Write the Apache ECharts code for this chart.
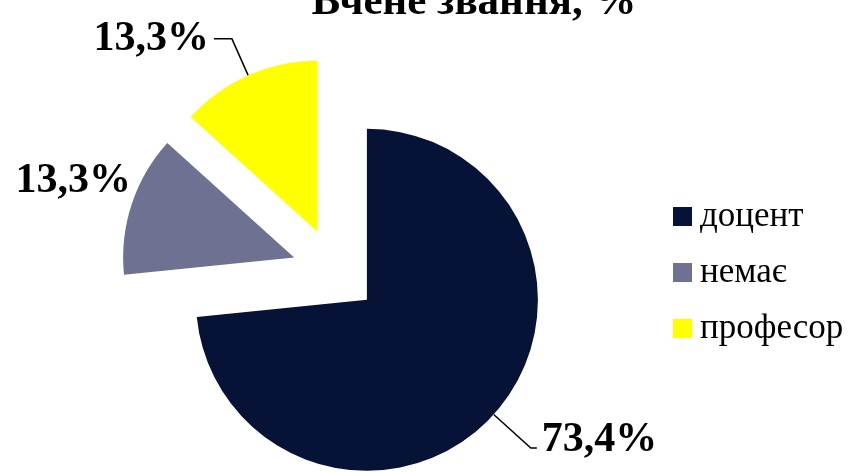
<!DOCTYPE html>
<html>
<head>
<meta charset="utf-8">
<script src="https://cdn.jsdelivr.net/npm/echarts@6/dist/echarts.min.js"></script>
<style>
  html, body { margin: 0; padding: 0; background: #fff; }
  #chart { width: 859px; height: 473px; }
</style>
</head>
<body>
<div id="chart"></div>
<script>
// values from the picture
const categories = ['доцент', 'немає', 'професор'];
const shares = [73.4, 13.3, 13.3];
const colors = ['#061236', '#6e7191', '#ffff00'];
// leader lines: [length, length2, show]
const leaders = [[50, 6, true], [4, 0, false], [40, 18, true]];

const serif = '"Liberation Serif", "Times New Roman", serif';

const chart = echarts.init(document.getElementById('chart'));

chart.setOption({
  backgroundColor: '#ffffff',
  animation: false,
  title: {
    text: 'Вчене звання, %',
    left: 469,
    textAlign: 'center',
    top: -24,
    textStyle: { fontFamily: serif, fontSize: 43, fontWeight: 'bold', color: '#000' }
  },
  legend: {
    orient: 'vertical',
    left: 668,
    top: 194,
    icon: 'rect',
    itemWidth: 19,
    itemHeight: 19,
    itemGap: 21,
    data: categories,
    textStyle: { fontFamily: serif, fontSize: 35, color: '#000', padding: [0, 0, 0, 3] }
  },
  series: [{
    type: 'pie',
    center: [335, 271],
    radius: [0, 171],
    startAngle: 90,
    clockwise: true,
    selectedMode: 'multiple',
    selectedOffset: 43,
    avoidLabelOverlap: false,
    emphasis: { disabled: true },
    label: {
      show: true,
      position: 'outside',
      fontFamily: serif,
      fontSize: 42,
      fontWeight: 'bold',
      color: '#000',
      formatter: p => p.value.toFixed(1).replace('.', ',') + '%'
    },
    labelLine: { lineStyle: { color: '#000', width: 1.5 } },
    labelLayout: p => {
      if (p.dataIndex === 1) return { dx: 8, dy: -22 };
      if (p.dataIndex === 0) return { dy: -8 };
      return {};
    },
    data: categories.map((c, i) => ({
      name: c,
      value: shares[i],
      selected: true,
      itemStyle: { color: colors[i] },
      labelLine: { show: leaders[i][2], length: leaders[i][0], length2: leaders[i][1] }
    }))
  }]
});
</script>
</body>
</html>
